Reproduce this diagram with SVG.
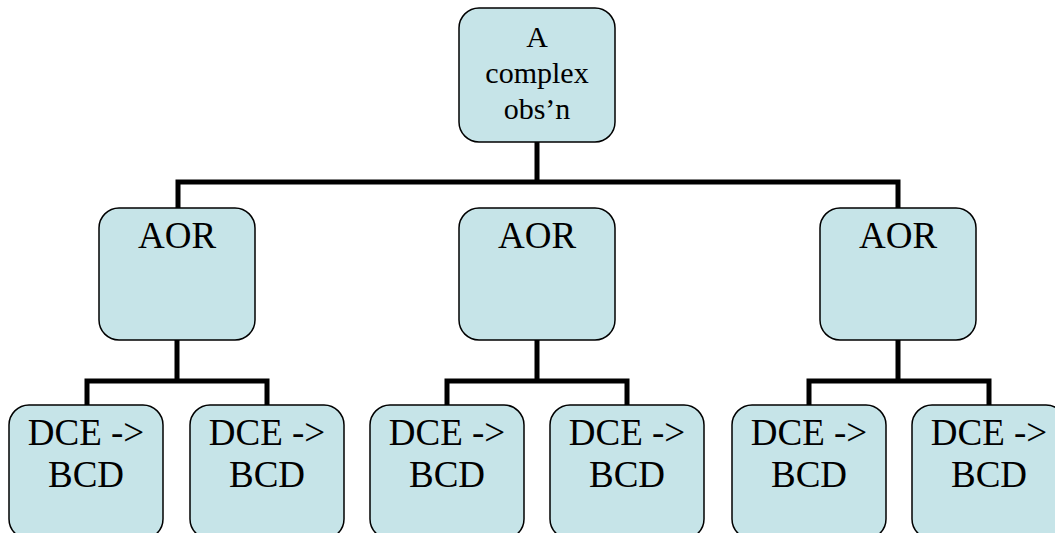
<svg xmlns="http://www.w3.org/2000/svg" width="1055" height="533" viewBox="0 0 1055 533">
<style>
.n{fill:#C6E4E8;stroke:#000;stroke-width:1.5}
.c{fill:none;stroke:#000;stroke-width:5;stroke-linecap:butt;stroke-linejoin:miter}
text{font-family:"Liberation Serif","Times New Roman",serif;fill:#000;text-anchor:middle}
.t1{font-size:30px}
.t2{font-size:37px}
</style>
<rect width="1055" height="533" fill="#fff"/>
<g id="connectors">
<path class="c" d="M537 142V184M178 209V182H898V209"/>
<path class="c" d="M177 340V381M87 405V381H267V405"/>
<path class="c" d="M537 340V381M447 405V381H627V405"/>
<path class="c" d="M898 340V381M809 405V381H989V405"/>
</g>
<g id="root"><rect class="n" x="459" y="8" width="156" height="134" rx="20"/>
<text class="t1" x="537" y="47">A</text><text class="t1" x="537" y="83">complex</text><text class="t1" x="537" y="119">obs’n</text></g>
<g id="aor1"><rect class="n" x="99" y="208" width="156" height="132" rx="20"/><text class="t2" x="177" y="248">AOR</text></g>
<g id="aor2"><rect class="n" x="459" y="208" width="156" height="132" rx="20"/><text class="t2" x="537" y="248">AOR</text></g>
<g id="aor3"><rect class="n" x="820" y="208" width="156" height="132" rx="20"/><text class="t2" x="898" y="248">AOR</text></g>
<g id="leaf1"><rect class="n" x="9" y="405" width="154" height="134" rx="20"/><text class="t2" x="86" y="445">DCE -&gt;</text><text class="t2" x="86" y="487">BCD</text></g>
<g id="leaf2"><rect class="n" x="190" y="405" width="154" height="134" rx="20"/><text class="t2" x="267" y="445">DCE -&gt;</text><text class="t2" x="267" y="487">BCD</text></g>
<g id="leaf3"><rect class="n" x="370" y="405" width="154" height="134" rx="20"/><text class="t2" x="447" y="445">DCE -&gt;</text><text class="t2" x="447" y="487">BCD</text></g>
<g id="leaf4"><rect class="n" x="550" y="405" width="154" height="134" rx="20"/><text class="t2" x="627" y="445">DCE -&gt;</text><text class="t2" x="627" y="487">BCD</text></g>
<g id="leaf5"><rect class="n" x="732" y="405" width="154" height="134" rx="20"/><text class="t2" x="809" y="445">DCE -&gt;</text><text class="t2" x="809" y="487">BCD</text></g>
<g id="leaf6"><rect class="n" x="912" y="405" width="154" height="134" rx="20"/><text class="t2" x="989" y="445">DCE -&gt;</text><text class="t2" x="989" y="487">BCD</text></g>
</svg>
